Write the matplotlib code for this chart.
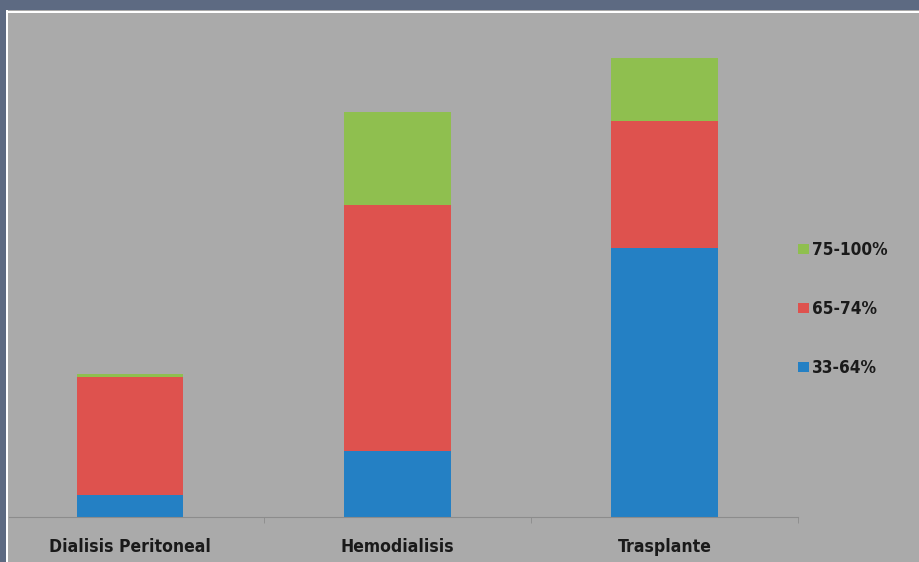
import matplotlib.pyplot as plt
from matplotlib.patches import Rectangle

categories = ['Dialisis Peritoneal', 'Hemodialisis', 'Trasplante']
serie_33_64 = [4.8, 14.4, 58.6]
serie_65_74 = [25.7, 53.6, 27.7]
serie_75_100 = [0.65, 20.3, 13.7]
labels = ['33-64%', '65-74%', '75-100%']
colors = ['#2480c4', '#de524e', '#8fbf4f']

W, H = 920, 562
fig = plt.figure(figsize=(W / 100, H / 100), dpi=100)
fig.patch.set_facecolor('#aaaaaa')

# dark frame top/left + white inner line
fig.patches.append(Rectangle((0, 0), 6 / W, 1, transform=fig.transFigure,
                             facecolor='#5d6a82', edgecolor='none', zorder=0))
fig.patches.append(Rectangle((0, 1 - 10 / H), 1, 10 / H, transform=fig.transFigure,
                             facecolor='#5d6a82', edgecolor='none', zorder=0))
fig.patches.append(Rectangle((6 / W, 0), 2 / W, 1 - 10 / H, transform=fig.transFigure,
                             facecolor='white', edgecolor='none', zorder=0))
fig.patches.append(Rectangle((6 / W, 1 - 13 / H), 1, 2 / H, transform=fig.transFigure,
                             facecolor='white', edgecolor='none', zorder=0))

ax = fig.add_axes([9 / W, 45 / H, (798 - 9) / W, (517 - 30) / H])
ax.set_facecolor('none')

x = range(len(categories))
bottom = [0] * 3
series = [serie_33_64, serie_65_74, serie_75_100]
handles = []
for vals, lab, col in zip(series, labels, colors):
    b = ax.bar(x, vals, 0.4, bottom=bottom, color=col, label=lab, zorder=2)
    handles.append(b)
    bottom = [a + v for a, v in zip(bottom, vals)]

ax.set_xlim(-0.453, 2.5)
ax.set_ylim(0, 106.1)

font = {'family': 'DejaVu Sans', 'stretch': 'condensed', 'weight': 'bold'}

for s in ['top', 'right', 'left']:
    ax.spines[s].set_visible(False)
ax.spines['bottom'].set_color('#8c8c8c')
ax.set_yticks([])
ax.set_xticks([0.5, 1.5, 2.5], minor=True)
ax.set_xticks(list(x))
ax.set_xticklabels(categories, fontsize=12.6, color='#1a1a1a', **font)
ax.tick_params(axis='x', which='major', length=0, pad=15)
ax.tick_params(axis='x', which='minor', length=4, color='#8c8c8c', direction='out')

leg = fig.legend(handles[::-1], labels[::-1], loc='center left',
                 bbox_to_anchor=(783 / W, 1 - 309 / H), frameon=False,
                 labelspacing=2.4, handlelength=0.6, handleheight=0.6,
                 handletextpad=0.2, prop=dict(font, size=12.3))
for t in leg.get_texts():
    t.set_color('#1a1a1a')

fig.savefig('out.png', dpi=100, facecolor=fig.get_facecolor())
